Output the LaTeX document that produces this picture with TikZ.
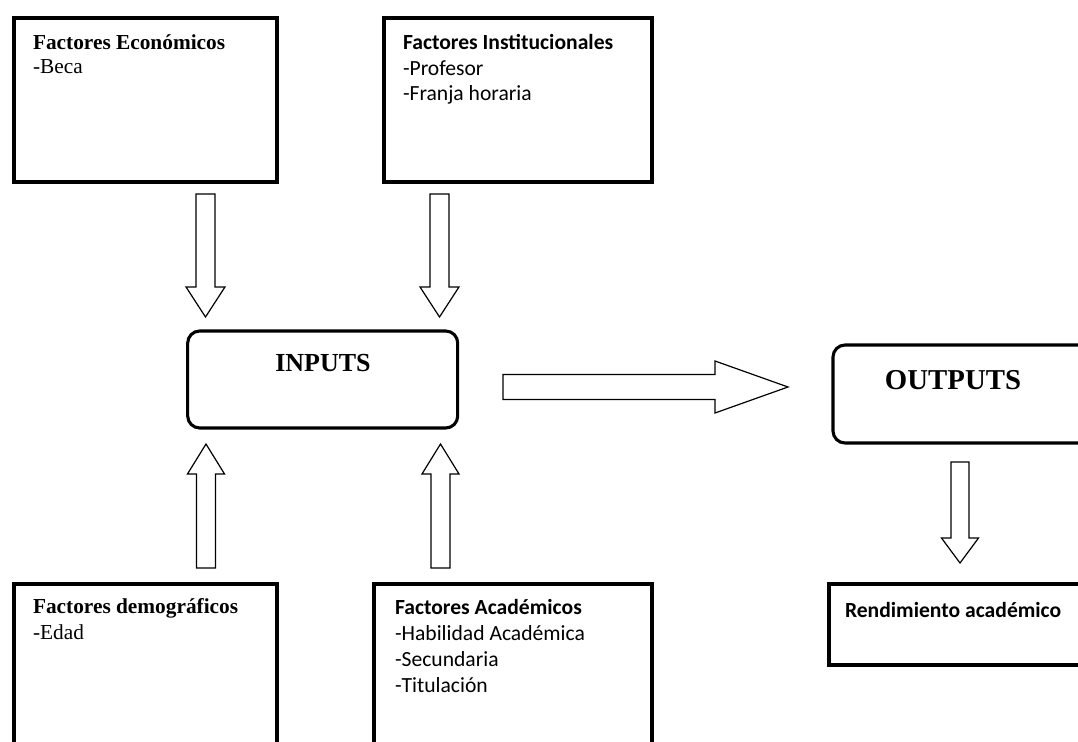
\documentclass[tikz,border=0pt]{standalone}
\usepackage{fontspec}
\setmainfont{Liberation Serif}
\newfontfamily\carlito{Carlito}
\usetikzlibrary{calc}
\tikzset{
  sqbox/.style={draw=black, line width=3pt, fill=none, inner sep=0pt, outer sep=0pt},
  rbox/.style={draw=black, line width=2.3pt, rounded corners=9pt, inner sep=0pt, outer sep=0pt},
  barrow/.style={draw=black, line width=0.9pt, fill=white, line join=miter},
  lbl/.style={anchor=base west, inner sep=0pt, outer sep=0pt, font=\fontsize{16}{18}\selectfont},
  clbl/.style={anchor=base west, inner sep=0pt, outer sep=0pt, font=\carlito\fontsize{16.2}{18}\selectfont},
  big/.style={anchor=base, inner sep=0pt, outer sep=0pt}
}
\newcommand{\blockarr}[5]{%
  \draw[barrow] let \p1=($(#2)!#5!(#1)$) in
    ($(#1)!#3!90:(#2)$) -- ($(\p1)!#3!90:(#2)$) -- ($(\p1)!#4!90:(#2)$) -- (#2)
    -- ($(\p1)!#4!-90:(#2)$) -- ($(\p1)!#3!-90:(#2)$) -- ($(#1)!#3!-90:(#2)$) -- cycle;}
\begin{document}
\begin{tikzpicture}[x=0.75pt,y=-0.75pt]
\useasboundingbox (0,0) rectangle (1078,742);
\fill[white] (0,0) rectangle (1078,742);
\clip (0,0) rectangle (1078,742);
% boxes
\node[sqbox, minimum width=197.6pt, minimum height=122.25pt] (econ) at (145.25,100) {};
\node[sqbox, minimum width=201.2pt, minimum height=122.25pt] (inst) at (517.85,100) {};
\node[sqbox, minimum width=197.6pt, minimum height=132pt] (demo) at (145.25,672) {};
\node[sqbox, minimum width=208.7pt, minimum height=132pt] (acad) at (512.85,672) {};
\node[sqbox, minimum width=203.5pt, minimum height=61.2pt] (rend) at (964.35,624.5) {};
\node[rbox, minimum width=202.5pt, minimum height=72.75pt] (inputs) at (322.7,379.5) {};
\node[rbox, minimum width=200.25pt, minimum height=73.5pt] (outputs) at (966.5,394) {};
% texts
\node[lbl] (econT) at (33,50) {\bfseries Factores Económicos};
\node[lbl] (econ1) at (33,74) {-Beca};
\node[clbl] (instT) at (403,50) {\bfseries Factores Institucionales};
\node[clbl] (inst1) at (403,75) {-Profesor};
\node[clbl] (inst2) at (403,100) {-Franja horaria};
\node[lbl] (demoT) at (33,613) {\bfseries Factores demográficos};
\node[lbl] (demo1) at (33,639) {-Edad};
\node[clbl] (acadT) at (395,614) {\bfseries Factores Académicos};
\node[clbl] (acad1) at (395,640) {-Habilidad Académica};
\node[clbl] (acad2) at (395,666) {-Secundaria};
\node[clbl] (acad3) at (395,692) {-Titulación};
\node[clbl] (rendT) at (845,617) {\bfseries Rendimiento académico};
\node[big, font=\bfseries\fontsize{19.5}{22}\selectfont] (inT) at (323,371) {INPUTS};
\node[big, font=\bfseries\fontsize{21.6}{24}\selectfont] (outT) at (953,389) {OUTPUTS};
% arrow end points
\coordinate (a1s) at (205.5,194); \coordinate (a1e) at (205.5,317);
\coordinate (a2s) at (439.5,194); \coordinate (a2e) at (439.5,317);
\coordinate (a3s) at (206,568);   \coordinate (a3e) at (206,444);
\coordinate (a4s) at (440.5,568); \coordinate (a4e) at (440.5,444);
\coordinate (a5s) at (503,387);   \coordinate (a5e) at (788,387);
\coordinate (a6s) at (960,462);   \coordinate (a6e) at (960,563);
% block arrows
\blockarr{a1s}{a1e}{7.125pt}{14.6pt}{22.5pt}
\blockarr{a2s}{a2e}{7.125pt}{14.6pt}{22.5pt}
\blockarr{a3s}{a3e}{7.125pt}{13.9pt}{22.5pt}
\blockarr{a4s}{a4e}{7.125pt}{13.9pt}{22.5pt}
\blockarr{a5s}{a5e}{9.4pt}{19.5pt}{54.75pt}
\blockarr{a6s}{a6e}{6.75pt}{13.9pt}{18.75pt}
\end{tikzpicture}
\end{document}
